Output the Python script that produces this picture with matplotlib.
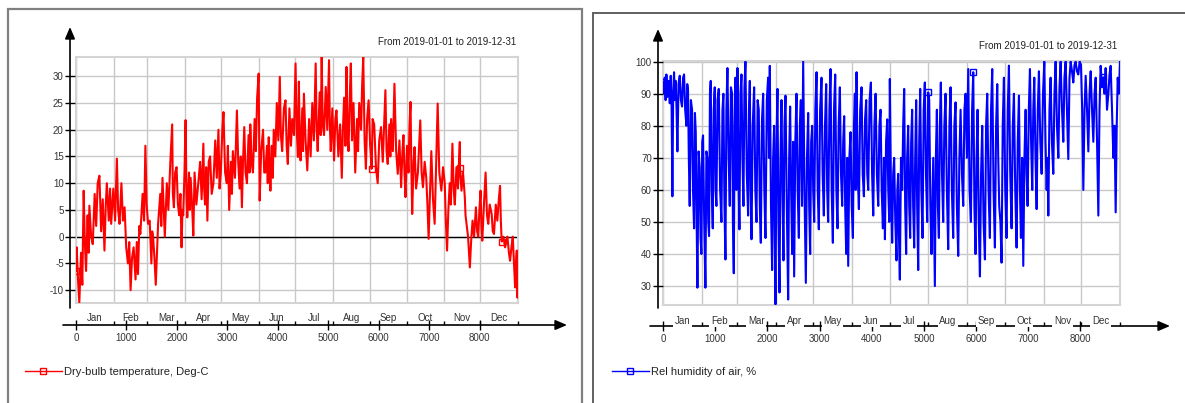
import matplotlib
matplotlib.use('Agg')
import matplotlib.pyplot as plt
from matplotlib.lines import Line2D
from matplotlib.patches import Rectangle

plt.rcParams['font.family'] = ['Liberation Sans', 'DejaVu Sans']
plt.rcParams['axes.unicode_minus'] = False

W, H = 1185, 403

months = ['Jan', 'Feb', 'Mar', 'Apr', 'May', 'Jun',
          'Jul', 'Aug', 'Sep', 'Oct', 'Nov', 'Dec']
month_edges = [0, 744, 1416, 2160, 2880, 3624, 4344,
               5088, 5832, 6552, 7296, 8016, 8760]
hour_ticks = [0, 1000, 2000, 3000, 4000, 5000, 6000, 7000, 8000]
period = 'From 2019-01-01 to 2019-12-31'

# dry-bulb temperature: (hour of year, deg C)
temp_points = [
    (0, -6.4), (13, -2), (40, -8), (66, -12.3), (100, -3), (125, -9), (152, 8.6),
    (175, -1), (199, -6.4), (230, 4), (250, -3), (265, 5.8), (300, 0), (332, -1.4),
    (370, 8), (400, 2), (430, 10), (464, 11.4), (498, 1), (530, 7), (564, -2.6),
    (590, 6), (611, 10), (650, 3), (675, 9), (697, 2.4), (740, 9), (775, 3),
    (810, 14.6), (835, 5), (863, 2.4), (900, 10), (930, 3), (963, 5.5), (995, -2),
    (1029, -5), (1055, -1), (1082, -10), (1110, -4), (1142, -2), (1180, -8),
    (1205, -1), (1229, -7), (1255, 2), (1275, 0.5), (1320, 8), (1350, 3),
    (1375, 17), (1400, 6), (1428, 2.4), (1460, 3), (1494, -5), (1510, 1),
    (1528, 0), (1555, -4), (1581, -9), (1605, -3), (1627, 2.4), (1670, 8),
    (1690, 2), (1714, 11), (1740, 5), (1760, 0), (1800, 10), (1830, 5), (1870, 14),
    (1906, 21), (1920, 8), (1940, 5.5), (1965, 12), (1993, 13), (2020, 6),
    (2046, 4), (2070, 8), (2092, -2), (2110, 5), (2125, 4), (2150, 12),
    (2172, 21.8), (2190, 8), (2205, 3.6), (2240, 12), (2255, 5), (2272, 11),
    (2300, 6), (2325, 0.2), (2350, 12), (2385, 6), (2424, 10), (2460, 14),
    (2490, 7), (2524, 17.4), (2540, 9), (2557, 6), (2580, 13), (2604, 3),
    (2630, 14), (2657, 15), (2690, 8), (2723, 10), (2760, 18), (2790, 11),
    (2823, 20), (2845, 9), (2870, 12), (2900, 20), (2923, 23.3), (2955, 12),
    (2989, 10), (3010, 17), (3036, 5), (3070, 14), (3090, 8), (3109, 16),
    (3150, 11), (3189, 23.6), (3215, 14), (3242, 9), (3265, 15), (3288, 5.5),
    (3310, 14), (3335, 20.5), (3360, 12), (3388, 10), (3420, 19), (3440, 12),
    (3454, 21), (3480, 14), (3507, 12), (3540, 22), (3565, 16), (3590, 26),
    (3620, 30.5), (3630, 18), (3640, 6.75), (3670, 16), (3707, 20), (3730, 12),
    (3753, 12), (3785, 17), (3800, 10), (3820, 18.6), (3840, 12), (3853, 8.6),
    (3880, 17), (3900, 11), (3919, 20), (3950, 15), (3980, 25), (4010, 18),
    (4039, 29.9), (4060, 19), (4086, 16), (4120, 24), (4152, 25.5), (4175, 17),
    (4198, 13.6), (4230, 24), (4260, 17), (4285, 22), (4320, 19), (4351, 32.4),
    (4375, 20), (4398, 14.9), (4417, 29), (4435, 18), (4451, 14.25), (4485, 24),
    (4500, 16), (4517, 26.75), (4550, 18), (4584, 12.4), (4620, 22), (4650, 15),
    (4683, 25), (4715, 18), (4750, 32.4), (4770, 20), (4790, 16), (4830, 27),
    (4850, 19), (4869, 33.6), (4890, 21), (4916, 19), (4950, 28), (4980, 20),
    (5015, 33), (5030, 21), (5049, 16), (5080, 24), (5115, 14.25), (5140, 22),
    (5162, 23.6), (5200, 15), (5235, 21), (5268, 11), (5290, 20), (5314, 26),
    (5340, 17), (5361, 31.75), (5380, 20), (5401, 16), (5425, 26), (5447, 32.4),
    (5470, 18), (5500, 25), (5534, 12), (5570, 22), (5590, 16), (5613, 25),
    (5650, 20), (5670, 28), (5693, 33.6), (5720, 18), (5746, 12.7), (5770, 22),
    (5799, 25.5), (5830, 17), (5860, 12.7), (5879, 22), (5910, 21), (5945, 13),
    (5979, 10), (6010, 18), (6045, 20.5), (6080, 14), (6110, 22), (6132, 27.4),
    (6155, 16), (6178, 13.6), (6210, 21), (6230, 15), (6245, 22), (6280, 16),
    (6311, 28.6), (6345, 16), (6377, 11.75), (6410, 18), (6444, 9.25), (6470, 16),
    (6490, 19), (6510, 12), (6530, 7.4), (6560, 17), (6590, 12), (6610, 21),
    (6630, 25.2), (6648, 12), (6663, 4.25), (6690, 14), (6710, 16.75), (6740, 9),
    (6776, 12), (6800, 17), (6823, 21.75), (6850, 12), (6876, 9.25), (6910, 14),
    (6942, 11), (6965, 6), (6989, -0.4), (7015, 8), (7042, 16), (7075, 7),
    (7108, 2.4), (7140, 14), (7168, 24.9), (7200, 12), (7241, 8.6), (7275, 13),
    (7308, 10), (7330, 3), (7354, -2.6), (7380, 5), (7407, 10), (7430, 6),
    (7460, 17.4), (7485, 9), (7507, 6), (7540, 13), (7570, 9), (7607, 17.7),
    (7610, 12.9), (7640, 8.6), (7670, 12), (7706, 7.4), (7720, 4), (7740, 2.4),
    (7770, 0), (7806, -5.75), (7830, -1), (7859, 3), (7890, 0), (7926, 5.5),
    (7950, 1), (7972, 0), (7995, 5), (8018, 8.6), (8035, 2), (8052, -0.75),
    (8085, 6), (8118, 12), (8145, 4), (8171, 2.4), (8200, 6), (8238, 4.25),
    (8260, 1), (8284, 0.5), (8320, 6), (8350, 3), (8380, 7), (8404, 9.5),
    (8420, 3), (8437, -0.9), (8470, 0), (8504, -2), (8530, -1), (8550, 0),
    (8580, -3), (8603, -4.5), (8630, -2), (8656, 0), (8680, -5), (8703, -9.5),
    (8720, -5), (8736, -2.6), (8750, -11.4), (8759, -5.75),
]
temp_marks = [0, 5860, 7610, 8437]

# relative humidity: (hour of year, %)
rh_points = [
    (1, 93.5), (20, 90), (33, 95), (50, 88), (65, 96), (85, 89), (110, 94),
    (130, 87), (148, 95.6), (165, 86), (180, 58), (195, 90), (212, 96.7),
    (228, 88), (244, 94), (260, 85), (276, 72), (298, 93), (321, 95.6), (343, 88),
    (365, 86), (385, 95), (404, 96), (425, 85), (449, 80), (465, 93), (480, 91),
    (495, 70), (512, 55), (535, 88), (557, 85), (575, 60), (596, 48), (612, 84),
    (628, 78), (645, 50), (660, 29.5), (682, 72), (704, 67), (720, 45), (736, 40),
    (752, 75), (768, 77), (790, 50), (813, 29.5), (832, 72), (851, 70), (867, 50),
    (883, 45.6), (900, 90), (915, 94), (935, 60), (954, 48), (973, 85), (992, 92),
    (1008, 60), (1024, 55), (1045, 88), (1069, 91.5), (1095, 60), (1120, 50),
    (1140, 85), (1158, 90), (1178, 55), (1197, 38.3), (1215, 85), (1235, 98),
    (1258, 70), (1280, 55), (1302, 92), (1325, 90), (1340, 50), (1357, 34),
    (1373, 80), (1389, 95), (1408, 60), (1427, 98), (1446, 65), (1465, 47.7),
    (1485, 90), (1504, 96), (1523, 70), (1542, 55), (1561, 92), (1580, 100),
    (1606, 65), (1632, 52), (1648, 85), (1664, 94), (1680, 60), (1696, 44.6),
    (1720, 80), (1747, 92), (1770, 60), (1792, 50), (1814, 88), (1836, 85),
    (1855, 55), (1875, 43.5), (1898, 82), (1920, 90), (1942, 60), (1964, 45),
    (1990, 88), (2015, 95), (2031, 70), (2047, 98.7), (2070, 55), (2092, 35),
    (2111, 70), (2130, 80), (2143, 45), (2156, 24.3), (2175, 75), (2194, 91.5),
    (2213, 50), (2233, 28), (2252, 70), (2271, 88), (2290, 60), (2309, 38),
    (2328, 80), (2348, 89.4), (2373, 55), (2399, 25.8), (2418, 70), (2437, 86),
    (2456, 60), (2476, 40), (2495, 75), (2514, 33), (2536, 75), (2559, 90),
    (2581, 60), (2604, 45), (2623, 80), (2642, 88), (2665, 55), (2687, 100),
    (2712, 60), (2738, 31), (2760, 70), (2783, 84), (2802, 55), (2821, 40),
    (2840, 75), (2860, 80), (2879, 60), (2898, 50), (2920, 85), (2943, 96.7),
    (2965, 60), (2987, 47.7), (3012, 85), (3038, 95), (3060, 65), (3083, 52),
    (3105, 80), (3128, 93), (3147, 60), (3166, 50), (3190, 85), (3211, 97.7),
    (3233, 60), (3256, 43.5), (3278, 85), (3301, 96), (3323, 60), (3345, 48),
    (3367, 80), (3390, 92), (3412, 65), (3435, 55), (3454, 75), (3473, 83),
    (3492, 55), (3512, 40), (3531, 70), (3550, 36.3), (3572, 70), (3595, 78),
    (3617, 55), (3640, 45), (3660, 80), (3678, 90), (3694, 60), (3710, 96.7),
    (3732, 65), (3755, 54), (3780, 85), (3806, 92), (3828, 65), (3851, 58),
    (3873, 82), (3895, 88), (3915, 65), (3934, 60), (3960, 88), (3985, 93.5),
    (4008, 65), (4030, 52), (4052, 80), (4075, 90), (4100, 65), (4126, 55),
    (4148, 80), (4170, 85), (4192, 60), (4215, 48), (4235, 70), (4254, 44.6),
    (4276, 75), (4298, 82), (4318, 60), (4337, 50), (4348, 94.6), (4370, 60),
    (4393, 43.5), (4412, 65), (4431, 70), (4453, 50), (4476, 38), (4492, 60),
    (4508, 65), (4524, 45), (4540, 32), (4562, 70), (4585, 60), (4604, 80),
    (4623, 91.5), (4642, 55), (4661, 40), (4680, 70), (4700, 80), (4719, 55),
    (4738, 45), (4757, 75), (4776, 85), (4795, 55), (4815, 42), (4834, 70),
    (4853, 88), (4872, 55), (4892, 35), (4911, 75), (4930, 91.5), (4952, 60),
    (4975, 45), (4997, 85), (5019, 93.5), (5041, 65), (5064, 50), (5083, 90.4),
    (5103, 88), (5125, 55), (5147, 40), (5180, 70), (5211, 30), (5230, 70),
    (5250, 85), (5269, 55), (5288, 45), (5307, 80), (5326, 93.5), (5348, 65),
    (5371, 50), (5393, 80), (5416, 90), (5441, 60), (5467, 41.5), (5490, 80),
    (5512, 92), (5537, 60), (5563, 45), (5585, 80), (5608, 87.3), (5633, 55),
    (5659, 39.4), (5681, 70), (5704, 85), (5730, 65), (5755, 55), (5778, 85),
    (5800, 90), (5825, 70), (5851, 97.7), (5876, 60), (5902, 50), (5925, 85),
    (5947, 96.7), (5969, 55), (5991, 40), (6010, 70), (6030, 85), (6052, 50),
    (6075, 33), (6097, 65), (6119, 80), (6145, 50), (6171, 38.3), (6193, 80),
    (6215, 90), (6240, 60), (6266, 45), (6288, 85), (6311, 97.7), (6336, 60),
    (6362, 42), (6385, 80), (6407, 93), (6426, 70), (6445, 55), (6468, 50),
    (6490, 37.3), (6512, 80), (6535, 95), (6560, 60), (6586, 45), (6608, 85),
    (6631, 98.75), (6656, 65), (6682, 48), (6705, 80), (6727, 90), (6752, 60),
    (6778, 42), (6800, 75), (6823, 89.4), (6842, 60), (6861, 45), (6884, 70),
    (6906, 36.3), (6928, 70), (6951, 85), (6970, 65), (6989, 55), (7012, 85),
    (7034, 97.7), (7056, 75), (7078, 60), (7098, 85), (7117, 95), (7140, 70),
    (7162, 54), (7184, 85), (7206, 97), (7232, 75), (7258, 65), (7284, 90),
    (7309, 100), (7332, 75), (7354, 60), (7370, 70), (7386, 52), (7408, 85),
    (7430, 95), (7455, 75), (7481, 65), (7504, 90), (7526, 100), (7552, 80),
    (7578, 70), (7600, 92), (7622, 100), (7648, 85), (7673, 75), (7695, 95),
    (7718, 100), (7744, 85), (7769, 69.6), (7792, 95), (7814, 100), (7840, 97),
    (7865, 93.5), (7888, 99), (7910, 100), (7935, 97), (7961, 96), (7986, 100),
    (8012, 99), (8035, 85), (8057, 60), (8080, 85), (8102, 95.6), (8128, 85),
    (8153, 72), (8176, 90), (8198, 97), (8224, 85), (8249, 75), (8272, 90),
    (8294, 95), (8320, 75), (8345, 52), (8367, 85), (8389, 98.7), (8415, 92),
    (8441, 95.1), (8463, 90), (8485, 98), (8511, 85), (8537, 90), (8559, 96),
    (8581, 98.7), (8607, 85), (8633, 70), (8655, 80), (8677, 53), (8697, 80),
    (8716, 95), (8740, 90), (8759, 100),
]
rh_marks = [1, 5083, 5947, 8441]


def fx(px):
    return px / W


def fy(py):
    return 1 - py / H


def arrow(ax, x0, y0, x1, y1):
    ax.annotate('', xy=(fx(x1), fy(y1)), xytext=(fx(x0), fy(y0)),
                xycoords='figure fraction', textcoords='figure fraction',
                annotation_clip=False, zorder=2,
                arrowprops=dict(arrowstyle='-|>,head_length=0.7,head_width=0.3',
                                color='black', lw=1.2, shrinkA=0, shrinkB=0,
                                mutation_scale=10))


def panel(fig, p):
    l, r, t, b = p['plot']
    rect = [fx(l), fy(b), (r - l) / W, (b - t) / H]
    xs = [h for h, v in p['points']]
    ys = [v for h, v in p['points']]
    lookup = dict(p['points'])

    # data area
    ax = fig.add_axes(rect)
    ax.set_xlim(0, 8760)
    ax.set_ylim(*p['ylim'])
    ax.set_xticks(month_edges)
    ax.set_yticks(p['yticks'])
    ax.tick_params(length=0, labelbottom=False, labelleft=False)
    ax.grid(color='#c8c8c8', lw=1)
    for s in ax.spines.values():
        s.set_color('#d4d4d4')
        s.set_linewidth(1.5)
    if p['zero']:
        ax.axhline(0, color='black', lw=1, zorder=2)
    ax.plot(xs, ys, color=p['color'], lw=1.5, zorder=3)
    ax.plot(p['marks'], [lookup[h] for h in p['marks']], 's', mfc='none',
            mec=p['color'], ms=5, mew=1, zorder=4)

    # y axis
    ay = fig.add_axes(rect, sharey=ax)
    ay.patch.set_visible(False)
    for s in ay.spines.values():
        s.set_visible(False)
    ay.spines['left'].set_position(('outward', (l - p['yaxis_x']) * 0.72))
    ay.set_xticks([])
    ay.tick_params(axis='y', direction='inout', length=7, width=1,
                   labelsize=7, pad=1, labelcolor='#333333')
    arrow(ay, p['yaxis_x'], p['yaxis_y0'], p['yaxis_x'], p['yaxis_y1'])

    # x axis below the plot
    yx = p['xaxis_y']
    axx = fig.add_axes([fx(l), fy(yx), (r - l) / W, 0.0005])
    axx.set_xlim(0, 8760)
    axx.patch.set_visible(False)
    for s in axx.spines.values():
        s.set_visible(False)
    axx.set_yticks([])
    axx.set_xticks(hour_ticks)
    axx.set_xticks(month_edges, minor=True)
    axx.tick_params(axis='x', which='major', direction='inout', length=7,
                    width=1, labelsize=7, pad=2, labelcolor='#333333')
    axx.tick_params(axis='x', which='minor', bottom=False, top=True,
                    direction='out', length=3, width=1)
    arrow(axx, p['xaxis_x0'], yx, p['xaxis_x1'], yx)
    for i, m in enumerate(months):
        c = (month_edges[i] + month_edges[i + 1]) / 2
        kw = {}
        if p['label_box']:
            kw['bbox'] = dict(fc='white', ec='none', pad=1.2)
        axx.annotate(m, xy=(c, 1), xycoords=axx.get_xaxis_transform(),
                     xytext=(0, p['month_off']), textcoords='offset points',
                     ha='center', va='bottom', fontsize=7, color='#333333',
                     annotation_clip=False, zorder=5, **kw)

    fig.text(fx(p['title_x']), fy(p['title_y']), period, ha='right',
             va='center', fontsize=7, color='#222222')

    h = Line2D([], [], color=p['color'], lw=1, marker='s', mfc='none',
               mec=p['color'], ms=5)
    fig.legend([h], [p['label']], loc='center left',
               bbox_to_anchor=(fx(p['leg_x']), fy(372)), frameon=False,
               fontsize=8, handlelength=3.3, handletextpad=0.25,
               borderpad=0, borderaxespad=0, numpoints=1,
               labelcolor='#222222')


fig = plt.figure(figsize=(W / 100, H / 100), dpi=100)

fig.add_artist(Rectangle((fx(8), fy(420)), fx(582 - 8), (420 - 9) / H,
                         transform=fig.transFigure, fill=False,
                         ec='#808080', lw=1.6))
fig.add_artist(Rectangle((fx(593), fy(420)), fx(1200 - 593), (420 - 13) / H,
                         transform=fig.transFigure, fill=False,
                         ec='#606060', lw=1.4))

panel(fig, dict(plot=(76, 518, 57, 303), ylim=(-12.4, 33.6),
                yticks=[-10, -5, 0, 5, 10, 15, 20, 25, 30], zero=True,
                points=temp_points, marks=temp_marks, color='#ff0000',
                yaxis_x=70, yaxis_y0=308, yaxis_y1=27,
                xaxis_y=325, xaxis_x0=63, xaxis_x1=567,
                label_box=False, month_off=1.5,
                title_x=516, title_y=42, leg_x=25,
                label='Dry-bulb temperature, Deg-C'))

panel(fig, dict(plot=(663, 1120, 61, 305), ylim=(24.1, 100.2),
                yticks=[30, 40, 50, 60, 70, 80, 90, 100], zero=False,
                points=rh_points, marks=rh_marks, color='#0000ff',
                yaxis_x=658, yaxis_y0=308, yaxis_y1=29,
                xaxis_y=326, xaxis_x0=650, xaxis_x1=1170,
                label_box=True, month_off=0.2,
                title_x=1117, title_y=46, leg_x=612,
                label='Rel humidity of air, %'))

fig.savefig('out.png', dpi=100)
